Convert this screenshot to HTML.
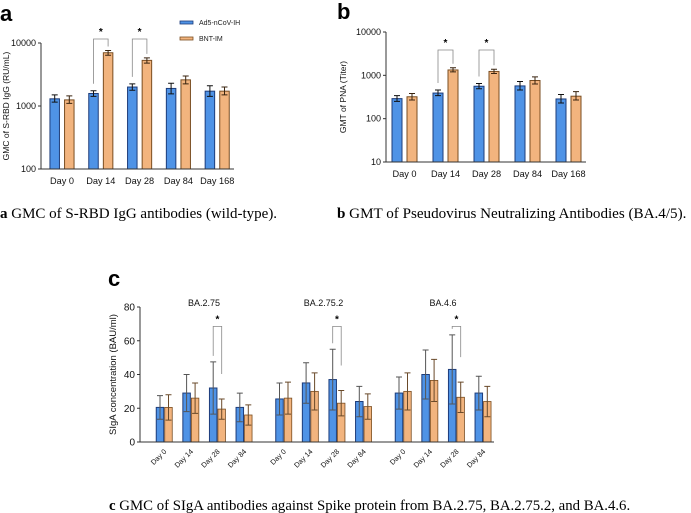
<!DOCTYPE html>
<html><head><meta charset="utf-8">
<style>
html,body{margin:0;padding:0;background:#fff;}
svg{display:block;}
.sans{font-family:"Liberation Sans",Arial,sans-serif;}
.serif{font-family:"Liberation Serif","Times New Roman",serif;}
</style></head>
<body>
<svg id="fig" width="691" height="513" viewBox="0 0 691 513" xmlns="http://www.w3.org/2000/svg">
  <text x="0" y="21" class="sans" font-size="22" font-weight="bold">a</text>
  <text x="337" y="19" class="sans" font-size="22" font-weight="bold">b</text>
  <text x="108" y="286" class="sans" font-size="22" font-weight="bold">c</text>
  <text x="0" y="218" class="serif" font-size="15"><tspan font-weight="bold">a</tspan> GMC of S-RBD IgG antibodies (wild-type).</text>
  <text x="337" y="218" class="serif" font-size="15.1"><tspan font-weight="bold">b</tspan> GMT of Pseudovirus Neutralizing Antibodies (BA.4/5).</text>
  <text x="109" y="510" class="serif" font-size="14.8"><tspan font-weight="bold">c</tspan> GMC of SIgA antibodies against Spike protein from BA.2.75, BA.2.75.2, and BA.4.6.</text>
  <g>
    <rect x="180" y="21" width="13" height="3" fill="#4f93e6" stroke="#1d3c7a" stroke-width="0.8"/>
    <text x="199" y="25" class="sans" font-size="7" fill="#222">Ad5-nCoV-IH</text>
    <rect x="180" y="37" width="13" height="3" fill="#f2b47e" stroke="#7a4e22" stroke-width="0.8"/>
    <text x="199" y="41" class="sans" font-size="7" fill="#222">BNT-IM</text>
  </g>
</svg>
<script>
// Panel a data
const aCats=["Day 0","Day 14","Day 28","Day 84","Day 168"];
const aBlue=[1300,1580,2000,1900,1720];
const aBlueHi=[1500,1750,2250,2300,2100];
const aBlueLo=[1150,1420,1780,1560,1420];
const aOrange=[1250,7000,5300,2600,1720];
const aOrangeHi=[1450,7600,5800,3000,2000];
const aOrangeLo=[1100,6400,4800,2250,1500];
const aTicks=[100,1000,10000];
// Panel b data
const bCats=["Day 0","Day 14","Day 28","Day 84","Day 168"];
const bBlue=[290,390,560,570,285];
const bBlueHi=[340,460,650,720,360];
const bBlueLo=[250,340,490,460,230];
const bOrange=[320,1330,1230,760,330];
const bOrangeHi=[380,1500,1380,920,420];
const bOrangeLo=[270,1200,1100,630,270];
const bTicks=[10,100,1000,10000];
// Panel c data
const cGroups=["BA.2.75","BA.2.75.2","BA.4.6"];
const cCats=["Day 0","Day 14","Day 28","Day 84"];
const cBlue=[[20.5,29,32,20.5],[25.5,35,37,24],[29,40,43,29]];
const cBlueHi=[[27.5,40,47.5,29],[35,47,55,33],[38.5,54.5,63.5,39]];
const cOrange=[[20.5,26,19.5,16],[26,30,23,21],[30,36.5,26.5,24]];
const cOrangeHi=[[28,35,25.5,22],[35.5,41,30.5,28.5],[41,49,35.5,33]];
const cTicks=[0,20,40,60,80];

const NS="http://www.w3.org/2000/svg";
const svg=document.getElementById('fig');
function mk(tag,attrs,parent){const e=document.createElementNS(NS,tag);for(const k in attrs)e.setAttribute(k,attrs[k]);(parent||svg).appendChild(e);return e;}
const BF="#4f93e6",BS="#1d3c7a",OF="#f2b47e",OS="#7a4e22";

function errbar(g,x,yHi,yLo,col){
  const l=mk('path',{d:`M${x},${yHi}V${yLo}M${x-3},${yHi}H${x+3}M${x-3},${yLo}H${x+3}`,stroke:col,'stroke-width':1,fill:'none'},g);
  
  
}
function bracket(g,x1,y1,x2,y2,top){
  const p=mk('path',{d:`M${x1},${y1}V${top}H${x2}V${y2}`,stroke:'#888','stroke-width':0.8,fill:'none'},g);
  
  
  const s=mk('text',{x:(x1+x2)/2,y:top-4,'text-anchor':'middle','font-size':10,'font-weight':'bold',class:'sans'},g);
  s.textContent='*';
  
  
}

function logPanel(o){
  const g=mk('g',{});
  
  
  const lmin=Math.log10(o.ticks[0]),lmax=Math.log10(o.ticks[o.ticks.length-1]);
  const y=v=>o.y0-(Math.log10(v)-lmin)/(lmax-lmin)*(o.y0-o.y1);
  o.cats.forEach((c,i)=>{
    const cx=o.c0+i*o.step;
    const bx=cx-o.off, ox=cx+o.off;
    const b=mk('rect',{x:bx-o.w/2,y:y(o.blue[i]),width:o.w,height:o.y0-y(o.blue[i]),fill:BF,stroke:BS,'stroke-width':1},g);
    
    
    const r=mk('rect',{x:ox-o.w/2,y:y(o.orange[i]),width:o.w,height:o.y0-y(o.orange[i]),fill:OF,stroke:OS,'stroke-width':1},g);
    
    
    errbar(g,bx,y(o.blueHi[i]),y(o.blueLo[i]),'#111');
    errbar(g,ox,y(o.orangeHi[i]),y(o.orangeLo[i]),'#3a2510');
    const t=mk('text',{x:cx,y:o.y0+15,'text-anchor':'middle','font-size':9.2,class:'sans',fill:'#111'},g);
    t.textContent=c;
    
    
    if(o.sig.includes(i)){
      bracket(g,bx,y(o.blueHi[i])-7,ox,y(o.orangeHi[i])-4,o.brTop);
    }
  });
  const ax=mk('path',{d:`M${o.x0},${o.y1}V${o.y0}H${o.x1}`,stroke:'#333','stroke-width':1,fill:'none'},g);
  
  
  o.ticks.forEach(v=>{
    mk('path',{d:`M${o.x0-3},${y(v)}H${o.x0}`,stroke:'#333','stroke-width':1},g);
    const t=mk('text',{x:o.x0-5,y:y(v)+3,'text-anchor':'end','font-size':9,class:'sans',fill:'#111'},g);
    t.textContent=v;
    
    
  });
  const yt=mk('text',{x:o.ytx,y:(o.y0+o.y1)/2,'text-anchor':'middle','font-size':8.5,class:'sans',fill:'#111',transform:`rotate(-90 ${o.ytx} ${(o.y0+o.y1)/2})`},g);
  yt.textContent=o.ytitle;
  
  
}

logPanel({name:'panel-a-chart',cats:aCats,blue:aBlue,blueHi:aBlueHi,blueLo:aBlueLo,orange:aOrange,orangeHi:aOrangeHi,orangeLo:aOrangeLo,ticks:aTicks,
  x0:41,x1:234,y0:169,y1:43,c0:62,step:38.8,off:7.3,w:9.5,sig:[1,2],brTop:39,ytx:9,ytitle:'GMC of S-RBD IgG (RU/mL)'});
logPanel({name:'panel-b-chart',cats:bCats,blue:bBlue,blueHi:bBlueHi,blueLo:bBlueLo,orange:bOrange,orangeHi:bOrangeHi,orangeLo:bOrangeLo,ticks:bTicks,
  x0:386,x1:586,y0:162,y1:32,c0:404.5,step:41,off:7.5,w:10,sig:[1,2],brTop:50,ytx:346,ytitle:'GMT of PNA (Titer)'});

// Panel c
(function(){
  const g=mk('g',{});
  
  
  const x0=140,x1=494,y0=442,y1=307,vmax=80;
  const y=v=>y0-v/vmax*(y0-y1);
  const w=7.5;
  cGroups.forEach((gn,gi)=>{
    const gx=164+gi*119.5;
    const tt=mk('text',{x:gx+40,y:306,'text-anchor':'middle','font-size':9,class:'sans',fill:'#111'},g);
    tt.textContent=gn;
    
    
    cCats.forEach((c,i)=>{
      const cx=gx+i*26.6, bx=cx-4, ox=cx+4.5;
      const bv=cBlue[gi][i], ov=cOrange[gi][i];
      const bh=cBlueHi[gi][i], oh=cOrangeHi[gi][i];
      const b=mk('rect',{x:bx-w/2,y:y(bv),width:w,height:y0-y(bv),fill:BF,stroke:BS,'stroke-width':1},g);
      
      
      const r=mk('rect',{x:ox-w/2,y:y(ov),width:w,height:y0-y(ov),fill:OF,stroke:OS,'stroke-width':0.8},g);
      
      
      errbar(g,bx,y(bh),y(2*bv-bh),'#555');
      errbar(g,ox,y(oh),y(2*ov-oh),'#6a4a2a');
      const lx=cx+3, ly=y0+10;
      const t=mk('text',{x:lx,y:ly,'text-anchor':'end','font-size':7.2,class:'sans',fill:'#111',transform:`rotate(-45 ${lx} ${ly})`},g);
      t.textContent=c;
      
      
      if(i===2){ bracket(g,bx,y(bh)-6,ox,y(oh)-25,y(68.5)); }
    });
  });
  const ax=mk('path',{d:`M${x0},${y1}V${y0}H${x1}`,stroke:'#333','stroke-width':1,fill:'none'},g);
  
  
  cTicks.forEach(v=>{
    mk('path',{d:`M${x0-3},${y(v)}H${x0}`,stroke:'#333','stroke-width':1},g);
    const t=mk('text',{x:x0-5,y:y(v)+3.5,'text-anchor':'end','font-size':10,class:'sans',fill:'#111'},g);
    t.textContent=v;
    
    
  });
  const cy=(y0+y1)/2;
  const yt=mk('text',{x:116,y:cy,'text-anchor':'middle','font-size':9.5,class:'sans',fill:'#111',transform:`rotate(-90 116 ${cy})`},g);
  yt.textContent='SIgA concentration (BAU/ml)';
  
  
})();
</script>
</body></html>
